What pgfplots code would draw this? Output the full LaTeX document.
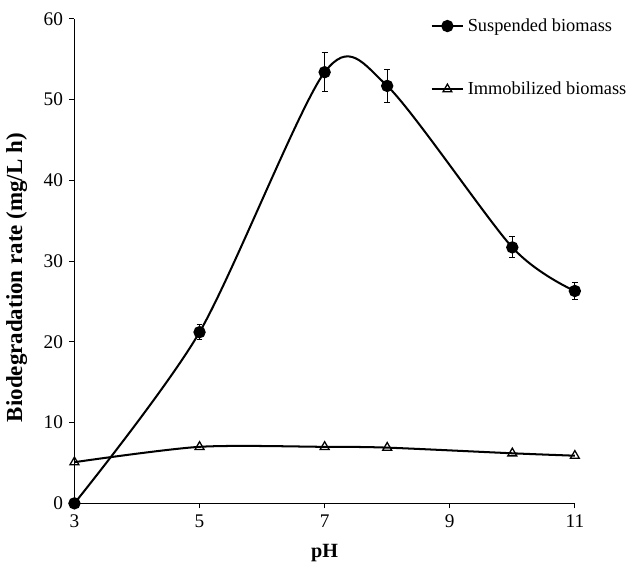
\documentclass[border=0pt]{standalone}
\usepackage{pgfplots}
\pgfplotsset{compat=1.18}
\usepackage{fontspec}
\setmainfont{Liberation Serif}
\begin{document}
\begin{tikzpicture}
\begin{axis}[name=ax,
  scale only axis, width=272.6pt, height=263.9pt,
  xmin=3, xmax=11, ymin=0, ymax=60,
  axis x line*=bottom, axis y line*=left,
  axis line style={line width=0.6pt},
  xtick={3,5,7,9,11}, ytick={0,10,20,30,40,50,60},
  tick align=outside, tick style={black, line width=0.6pt},
  major tick length=2.7pt,
  /pgf/number format/assume math mode=true,
  tick label style={font=\fontsize{10.5}{12}\selectfont},
  xlabel={\textbf{pH}}, ylabel={\textbf{Biodegradation rate (mg/L h)}},
  xlabel style={at={([yshift=-27.2pt]axis description cs:0.5,0)}, anchor=center, font=\fontsize{11}{13}\selectfont},
  ylabel style={at={([xshift=-31.5pt,yshift=-9pt]axis description cs:0,0.5)}, anchor=center, font=\fontsize{12.5}{15}\selectfont},
  clip=false,
  legend style={at={(axis cs:8.69,55.2)}, anchor=west, draw=none, fill=none, row sep=22pt, font=\normalsize, inner sep=0pt},
  legend cell align=left,
]
\addplot[black, line width=1.1pt, smooth, tension=0.47, mark=*, mark size=2.8pt,
  error bars/.cd, y dir=both, y explicit, error bar style={line width=0.6pt}, error mark options={rotate=90, mark size=1.6pt, line width=0.6pt}]
 coordinates {(3,0) +- (0,0) (5,21.2) +- (0,0.9) (7,53.4) +- (0,2.4) (8,51.7) +- (0,2.0) (10,31.7) +- (0,1.3) (11,26.3) +- (0,1.0)};
\addlegendentry{Suspended biomass}
\addplot[black, line width=1.1pt, smooth, tension=0.47, mark=triangle, mark size=2.8pt, mark options={fill=white, line width=0.7pt}]
 coordinates {(3,5.1) (5,7.0) (7,7.0) (8,6.9) (10,6.2) (11,5.9)};
\addlegendentry{Immobilized biomass}
\end{axis}
\path ([shift={(-39.6pt,-32.0pt)}]ax.south west) rectangle ([shift={(29.9pt,10.3pt)}]ax.north east);
\end{tikzpicture}
\end{document}
